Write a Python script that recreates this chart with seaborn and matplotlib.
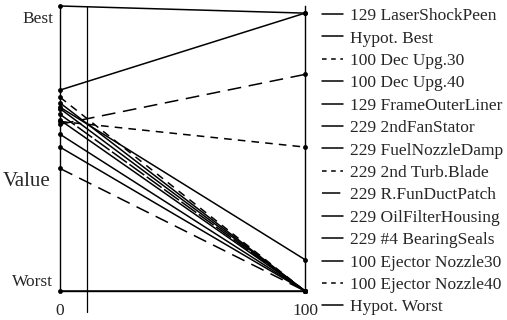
import seaborn as sns
import matplotlib.pyplot as plt
import pandas as pd
from matplotlib.lines import Line2D

# series, in legend order, with value at x=0 and x=100
series = ["129 LaserShockPeen", "Hypot. Best", "100 Dec Upg.30", "100 Dec Upg.40",
          "129 FrameOuterLiner", "229 2ndFanStator", "229 FuelNozzleDamp",
          "229 2nd Turb.Blade", "229 R.FunDuctPatch", "229 OilFilterHousing",
          "229 #4 BearingSeals", "100 Ejector Nozzle30", "100 Ejector Nozzle40",
          "Hypot. Worst"]
left_vals = [70.5, 100, 58.5, 59.5, 64.5, 66, 64, 68, 62, 60, 55, 50.5, 43, 0]
right_vals = [97.5, 97.5, 76, 50.5, 11, 0, 0, 0, 0, 0, 0, 0, 0, 0]
styles = ["-", "-", (0, (9, 5)), (0, (5, 4)), "-", "-", "-", (0, (5, 4)),
          (0, (12, 2)), "-", "-", "-", (0, (9, 5)), "-"]
legend_styles = ["-", "-", (0, (3, 3)), "-", "-", "-", "-", (0, (3, 3)),
                 (0, (12, 2)), "-", "-", "-", (0, (3, 3)), "-"]
x_ends = [0, 100]
cursor_x = 11

df = pd.DataFrame({
    "series": [s for s in series for _ in x_ends],
    "x": x_ends * len(series),
    "value": [v for pair in zip(left_vals, right_vals) for v in pair],
})

sns.set_style("white")
plt.rcParams["font.family"] = ["Liberation Serif", "DejaVu Serif"]

fig = plt.figure(figsize=(5.07, 3.2), dpi=100)
ax = fig.add_axes([60 / 507, 29 / 320, 245 / 507, 285 / 320])

for name, ls in zip(series, styles):
    sub = df[df["series"] == name]
    sns.lineplot(data=sub, x="x", y="value", ax=ax, color="black", linewidth=1.1,
                 linestyle=ls, marker="o", markersize=3.5, markeredgewidth=0,
                 legend=False, clip_on=False)

ax.axvline(cursor_x, ymin=-0.075, ymax=1.0, color="black", linewidth=0.9, clip_on=False)

ax.set_xlim(0, 100)
ax.set_ylim(0, 100)
ax.set_xticks(range(0, 101, 10))
ax.set_xticklabels(["0"] + [""] * 9 + ["100"])
ax.tick_params(axis="x", direction="inout", length=11, width=0.9, pad=3, labelsize=12.5)
ax.set_yticks([96, 4])
ax.set_yticklabels(["Best", "Worst"])
ax.tick_params(axis="y", length=0, pad=5, labelsize=12.5)
ax.set_xlabel("")
ax.set_ylabel("")
fig.text(3 / 507, 1 - 182 / 320, "Value", ha="left", va="center", fontsize=15)

for side in ["left", "bottom", "right"]:
    ax.spines[side].set_visible(True)
    ax.spines[side].set_color("black")
    ax.spines[side].set_linewidth(1.0)
ax.spines["top"].set_visible(False)

handles = [Line2D([], [], color="black", linewidth=1.1, linestyle=ls) for ls in legend_styles]
ax.legend(handles, series, loc="upper left", bbox_to_anchor=(1.069, 0.993), frameon=False,
          fontsize=12.5, handlelength=1.2, handletextpad=0.4,
          labelspacing=0.36, borderaxespad=0, borderpad=0)

plt.savefig("out.png", dpi=100)
